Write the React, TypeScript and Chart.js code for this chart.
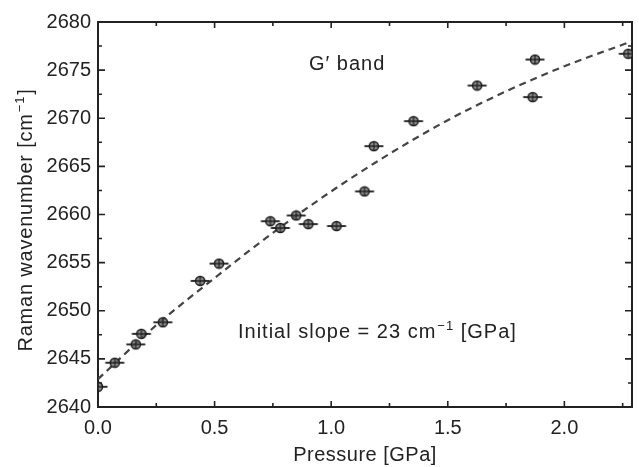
import React, { useEffect, useRef } from "react";
import { Chart, registerables } from "chart.js";

Chart.register(...registerables);

// ---- data ----
const pressure = [0.0, 0.072, 0.162, 0.186, 0.278, 0.438, 0.519, 0.739, 0.782, 0.85, 0.902, 1.023, 1.143, 1.183, 1.353, 1.626, 1.864, 1.874, 2.274];
const wavenumber = [2642.1, 2644.6, 2646.5, 2647.6, 2648.8, 2653.1, 2654.9, 2659.3, 2658.6, 2659.9, 2659.0, 2658.8, 2662.4, 2667.1, 2669.7, 2673.4, 2672.2, 2676.1, 2676.7];
const fitPressure = [0.0, 0.25, 0.5, 0.75, 1.0, 1.25, 1.5, 1.75, 2.0, 2.29];
const fitWavenumber = [2642.9, 2648.5, 2653.4, 2658.1, 2662.4, 2666.3, 2669.8, 2672.8, 2675.4, 2678.0];
const xTicks = [0.0, 0.5, 1.0, 1.5, 2.0];
const xMinorTicks = [0.25, 0.75, 1.25, 1.75, 2.25];
const yTicks = [2640, 2645, 2650, 2655, 2660, 2665, 2670, 2675, 2680];
const yMinorTicks = [2642.5, 2647.5, 2652.5, 2657.5, 2662.5, 2667.5, 2672.5, 2677.5];
const xRange = [0, 2.29];
const yRange = [2640, 2680];
const xTitle = "Pressure [GPa]";
const yTitleMain = "Raman wavenumber [cm";
const yTitleSup = "\u22121";
const yTitleEnd = "]";
const bandLabel = "G\u2032 band";
const slopeMain = "Initial slope = 23 cm";
const slopeSup = "\u22121";
const slopeEnd = " [GPa]";

const FONT = "'Liberation Sans', Arial, Helvetica, sans-serif";
const INK = "#222";

function makeMarker(): HTMLCanvasElement {
  const c = document.createElement("canvas");
  c.width = 22;
  c.height = 12;
  const g = c.getContext("2d")!;
  g.strokeStyle = "#1a1a1a";
  g.lineWidth = 1.8;
  g.beginPath();
  g.moveTo(1.5, 6);
  g.lineTo(20.5, 6);
  g.stroke();
  g.beginPath();
  g.arc(11, 6, 4.6, 0, Math.PI * 2);
  g.fillStyle = "rgba(110,110,110,0.8)";
  g.fill();
  g.lineWidth = 1.5;
  g.stroke();
  g.beginPath();
  g.moveTo(11, 1.4);
  g.lineTo(11, 10.6);
  g.moveTo(6.4, 6);
  g.lineTo(15.6, 6);
  g.lineWidth = 1.1;
  g.stroke();
  return c;
}

const framePlugin = {
  id: "framePlugin",
  beforeDatasetsDraw(chart: any) {
    const { ctx, chartArea: a, scales } = chart;
    const xs = scales.x;
    const ys = scales.y;
    ctx.save();
    ctx.strokeStyle = INK;
    ctx.lineWidth = 1.6;
    const drawX = (v: number, len: number) => {
      const px = xs.getPixelForValue(v);
      ctx.beginPath();
      ctx.moveTo(px, a.bottom);
      ctx.lineTo(px, a.bottom - len);
      ctx.moveTo(px, a.top);
      ctx.lineTo(px, a.top + len);
      ctx.stroke();
    };
    const drawY = (v: number, len: number) => {
      const py = ys.getPixelForValue(v);
      ctx.beginPath();
      ctx.moveTo(a.left, py);
      ctx.lineTo(a.left + len, py);
      ctx.moveTo(a.right, py);
      ctx.lineTo(a.right - len, py);
      ctx.stroke();
    };
    xTicks.forEach((v) => drawX(v, 6));
    xMinorTicks.forEach((v) => drawX(v, 4));
    yTicks.forEach((v) => drawY(v, 7));
    yMinorTicks.forEach((v) => drawY(v, 4));
    ctx.lineWidth = 2;
    ctx.strokeRect(a.left, a.top, a.right - a.left, a.bottom - a.top);
    ctx.restore();
  },
  afterDraw(chart: any) {
    const { ctx, chartArea: a } = chart;
    ctx.save();
    ctx.fillStyle = INK;
    ctx.textBaseline = "alphabetic";
    const mainFont = `20px ${FONT}`;
    const supFont = `13px ${FONT}`;
    (ctx as any).letterSpacing = "0.5px";
    // x title
    ctx.font = mainFont;
    ctx.textAlign = "center";
    ctx.fillText(xTitle, (a.left + a.right) / 2, 461);
    // y title with superscript
    ctx.textAlign = "left";
    (ctx as any).letterSpacing = "0.8px";
    ctx.font = mainFont;
    const w1 = ctx.measureText(yTitleMain).width;
    const w3 = ctx.measureText(yTitleEnd).width;
    ctx.font = supFont;
    const w2 = ctx.measureText(yTitleSup).width;
    const total = w1 + w2 + 2 + w3;
    ctx.translate(32, 220);
    ctx.rotate(-Math.PI / 2);
    const x0 = -total / 2;
    ctx.font = mainFont;
    ctx.fillText(yTitleMain, x0, 0);
    ctx.font = supFont;
    ctx.fillText(yTitleSup, x0 + w1 + 1, -8);
    ctx.font = mainFont;
    ctx.fillText(yTitleEnd, x0 + w1 + w2 + 2, 0);
    ctx.setTransform(1, 0, 0, 1, 0, 0);
    // annotations
    (ctx as any).letterSpacing = "1px";
    ctx.font = mainFont;
    ctx.fillText(bandLabel, 309, 70);
    let sx = 238;
    const sy = 338;
    ctx.fillText(slopeMain, sx, sy);
    sx += ctx.measureText(slopeMain).width + 1;
    ctx.font = supFont;
    ctx.fillText(slopeSup, sx, sy - 8);
    sx += ctx.measureText(slopeSup).width;
    ctx.font = mainFont;
    ctx.fillText(slopeEnd, sx, sy);
    ctx.restore();
  },
};

export default function App() {
  const ref = useRef<HTMLCanvasElement | null>(null);
  useEffect(() => {
    if (!ref.current) return;
    const marker = makeMarker();
    const chart = new Chart(ref.current, {
      type: "scatter",
      data: {
        datasets: [
          {
            label: "data",
            data: pressure.map((p, i) => ({ x: p, y: wavenumber[i] })),
            pointStyle: marker as any,
            pointRadius: 6,
            showLine: false,
          },
          {
            label: "fit",
            data: fitPressure.map((p, i) => ({ x: p, y: fitWavenumber[i] })),
            showLine: true,
            borderColor: "#444",
            borderWidth: 2.2,
            borderDash: [7, 5],
            pointRadius: 0,
            cubicInterpolationMode: "monotone",
            fill: false,
          },
        ],
      },
      options: {
        animation: false,
        responsive: true,
        maintainAspectRatio: false,
        layout: { padding: { top: 22, right: 3, left: 0, bottom: 0 } },
        plugins: { legend: { display: false }, tooltip: { enabled: false } },
        scales: {
          x: {
            type: "linear",
            min: xRange[0],
            max: xRange[1],
            grid: { display: false, drawTicks: false },
            border: { display: false },
            afterBuildTicks: (s: any) => {
              s.ticks = xTicks.map((v) => ({ value: v }));
            },
            afterFit: (s: any) => {
              s.height = 60;
            },
            ticks: {
              color: INK,
              font: { family: FONT, size: 20 },
              padding: 9,
              maxRotation: 0,
              autoSkip: false,
              callback: (v: any) => Number(v).toFixed(1),
            },
          },
          y: {
            type: "linear",
            min: yRange[0],
            max: yRange[1],
            grid: { display: false, drawTicks: false },
            border: { display: false },
            afterBuildTicks: (s: any) => {
              s.ticks = yTicks.map((v) => ({ value: v }));
            },
            afterFit: (s: any) => {
              s.width = 98;
            },
            ticks: {
              color: INK,
              font: { family: FONT, size: 20 },
              padding: 7,
              autoSkip: false,
              callback: (v: any) => String(v),
            },
          },
        },
      },
      plugins: [framePlugin],
    } as any);
    return () => chart.destroy();
  }, []);
  return (
    <div style={{ position: "fixed", left: 0, top: 0, width: 639, height: 467, background: "#fff" }}>
      <canvas ref={ref} />
    </div>
  );
}
